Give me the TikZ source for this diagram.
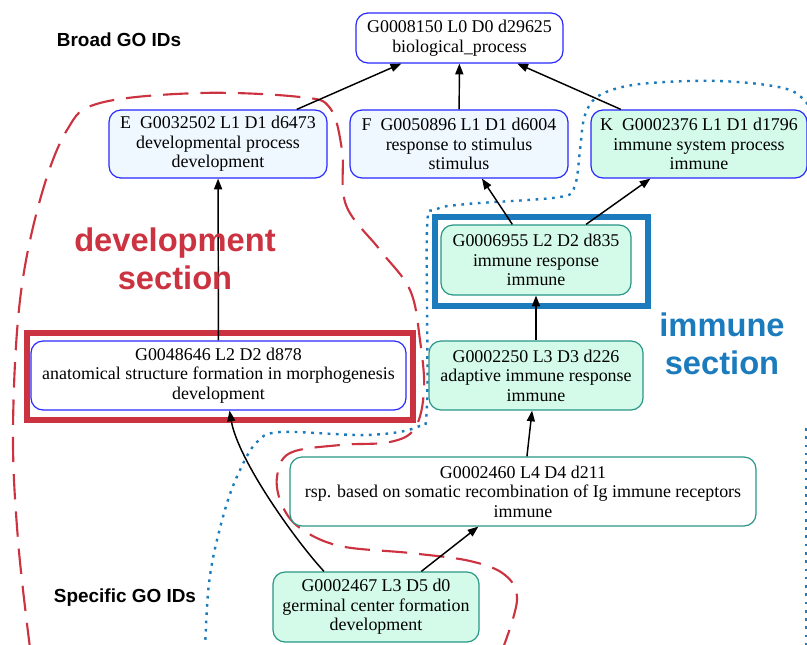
\documentclass[tikz,border=0pt]{standalone}
\usepackage{fontspec}
\setmainfont{Liberation Serif}
\setsansfont{Liberation Sans}
\usetikzlibrary{arrows.meta}
\definecolor{gvblue}{RGB}{40,40,255}
\definecolor{gvteal}{RGB}{40,150,135}
\definecolor{gvgreen}{RGB}{212,251,233}
\definecolor{gvalice}{RGB}{240,248,255}
\definecolor{secred}{RGB}{204,51,64}
\definecolor{secblue}{RGB}{27,123,188}
\tikzset{
  term/.style={draw, rounded corners=9pt, line width=0.9pt, align=center, inner sep=0pt,
    font=\fontsize{13.45}{14.6}\selectfont},
  bterm/.style={term, draw=gvblue},
  tterm/.style={term, draw=gvteal},
  edge/.style={draw=black, line width=1.1pt, -{Triangle[length=8pt,width=6pt]}},
  redsec/.style={draw=secred, line width=1.6pt, dash pattern=on 19pt off 9pt},
  bluesec/.style={draw=secblue, line width=1.8pt, dash pattern=on 2pt off 4.2pt},
  lab/.style={font=\sffamily\bfseries\fontsize{14.2}{16}\selectfont},
  seclab/.style={font=\sffamily\bfseries\fontsize{24.5}{28.5}\selectfont, align=center}
}
\begin{document}
\begin{tikzpicture}[x=0.75pt,y=-0.75pt]
\useasboundingbox (0,0) rectangle (807,644);
\clip (0,0) rectangle (807,644);

% section outlines
\draw[redsec] plot[smooth, tension=0.6] coordinates {(30,648) (18,540) (13,430) (20,300) (40,200) (67,130) (100,103) (200,93) (300,97) (330,108) (342,150) (346,205) (380,250) (410,290) (420,340) (424,390) (415,428) (390,442) (340,445) (290,453) (277,477) (282,505) (300,528) (340,546) (410,553) (470,561) (505,575) (517,600) (503,648)};
\draw[bluesec] plot[smooth, tension=0.55] coordinates {(205,648) (208,593) (214,553) (227,503) (240,470) (256,443) (280,432) (367,435) (417,427) (427,405) (427,230) (435,210) (467,204) (560,197) (575,185) (580,150) (585,115) (600,95) (640,84) (720,81) (790,90) (815,115)};
\draw[bluesec] (806,428) -- (806,648);

% nodes
\node[bterm, fill=white, minimum width=155.25pt, minimum height=37.5pt] (bio) at (459.5,38) {G0008150 L0 D0 d29625\\biological\_process};
\node[bterm, fill=gvalice, minimum width=163.5pt, minimum height=51pt] (E) at (218,144) {E~~G0032502 L1 D1 d6473\\developmental process\\development};
\node[bterm, fill=gvalice, minimum width=163.5pt, minimum height=51pt] (F) at (459,144) {F~~G0050896 L1 D1 d6004\\response to stimulus\\stimulus};
\node[bterm, fill=gvgreen, minimum width=162pt, minimum height=51pt] (K) at (699,144) {K~~G0002376 L1 D1 d1796\\immune system process\\immune};
\node[tterm, fill=gvgreen, minimum width=142.5pt, minimum height=52.5pt] (ir) at (536,260) {G0006955 L2 D2 d835\\immune response\\immune};
\node[tterm, fill=gvgreen, minimum width=160.5pt, minimum height=51.75pt] (air) at (536,375.5) {G0002250 L3 D3 d226\\adaptive immune response\\immune};
\node[bterm, fill=white, minimum width=281.25pt, minimum height=51.75pt] (asf) at (218.5,375.5) {G0048646 L2 D2 d878\\anatomical structure formation in morphogenesis\\development};
\node[tterm, fill=white, minimum width=349.5pt, minimum height=51.75pt] (rsp) at (523,491.5) {G0002460 L4 D4 d211\\rsp. based on somatic recombination of Ig immune receptors\\immune};
\node[tterm, fill=gvgreen, minimum width=154.5pt, minimum height=52.5pt] (gcf) at (376,607) {G0002467 L3 D5 d0\\germinal center formation\\development};

% highlight boxes
\draw[secblue, line width=4.5pt] (435,217) rectangle (648,306);
\draw[secred, line width=4.5pt] (27,333) rectangle (413,420);

% edges
\draw[edge] (E) -- (bio);
\draw[edge] (F) -- (bio);
\draw[edge] (K) -- (bio);
\draw[edge] (ir) -- (F);
\draw[edge] (ir) -- (K);
\draw[edge] (asf) -- (E);
\draw[edge] (air) -- (ir);
\draw[edge] (rsp) -- (air);
\draw[edge] (gcf) -- (rsp);
\draw[edge] ([xshift=-39pt]gcf.north) .. controls (295,540) and (238,460) .. ([xshift=8.25pt]asf.south);

% labels
\node[lab] (broad) at (119,40) {Broad GO IDs};
\node[lab] (specific) at (125,598) {Specific GO IDs};
\node[seclab, text=secred] (devsec) at (175,259) {development\\section};
\node[seclab, text=secblue] (immsec) at (722,344) {immune\\section};
\end{tikzpicture}
\end{document}
